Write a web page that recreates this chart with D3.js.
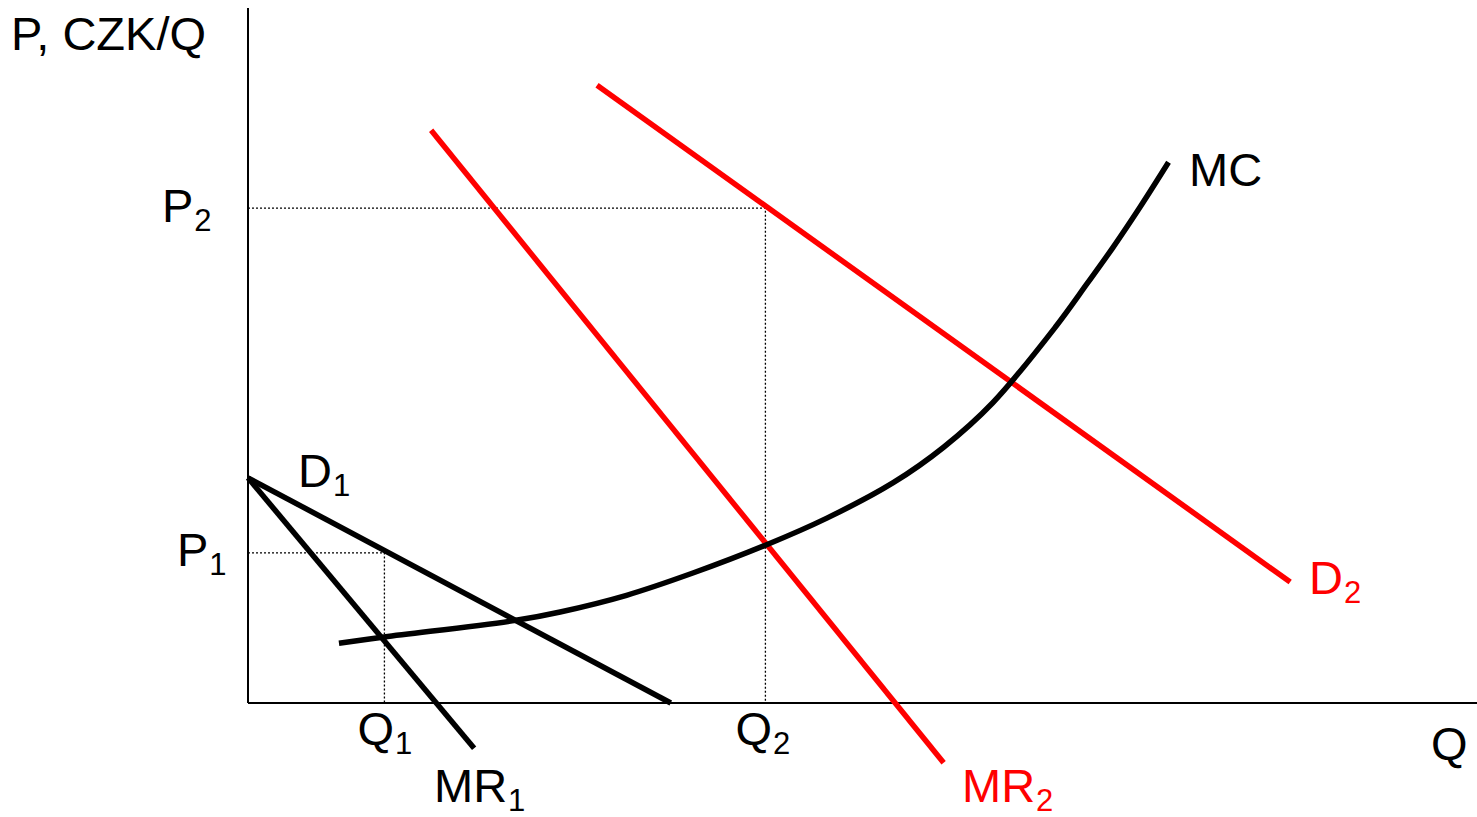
<!DOCTYPE html>
<html>
<head>
<meta charset="utf-8">
<script src="https://cdn.jsdelivr.net/npm/d3@7"></script>
<style>
  html, body { margin: 0; padding: 0; background: #fff; }
  svg { display: block; }
  text { font-family: "Liberation Sans", Arial, sans-serif; }
</style>
</head>
<body>
<svg id="chart" width="1477" height="817"></svg>
<script>
// ---- Data (Q units, P units) ----
const mcCurve = [
  [7.4, 8.6], [11.1, 9.5], [21.8, 11.9], [25.4, 13.1], [30.8, 15.5],
  [36.2, 18.7], [42.1, 22.7], [47.1, 26.6], [52.5, 31.7], [56.6, 36.8],
  [60.6, 43.2], [65.7, 54.1], [68.3, 60.4], [70.4, 65.6], [72.6, 71.4],
  [74.9, 77.8]
];
const d1Line  = [[0, 32.4], [34.4, 0]];
const mr1Line = [[0, 32.4], [18.4, -6.5]];
const d2Line  = [[28.4, 88.9], [84.8, 17.4]];
const mr2Line = [[14.9, 82.4], [56.6, -8.6]];
const equilibria = [
  { q: 11.1, p: 21.6, qLabel: "Q", pLabel: "P", sub: "1" },
  { q: 42.1, p: 71.2, qLabel: "Q", pLabel: "P", sub: "2" }
];
const axisLabels = { y: "P, CZK/Q", x: "Q" };

// ---- Scales ----
const x = d3.scaleLinear().domain([0, 100]).range([248, 1477]);
const y = d3.scaleLinear().domain([0, 100]).range([703, 8]);

const svg = d3.select("#chart");
const line = d3.line().x(d => x(d[0])).y(d => y(d[1]));

// ---- Axes ----
svg.append("line")
  .attr("x1", x(0)).attr("x2", x(0)).attr("y1", y(0)).attr("y2", y(100))
  .attr("stroke", "#000").attr("stroke-width", 2);
svg.append("line")
  .attr("x1", x(0)).attr("x2", x(100)).attr("y1", y(0)).attr("y2", y(0))
  .attr("stroke", "#000").attr("stroke-width", 2);

// ---- Dotted guide lines ----
equilibria.forEach(e => {
  svg.append("path")
    .attr("d", line([[0, e.p], [e.q, e.p], [e.q, 0]]))
    .attr("fill", "none").attr("stroke", "#000")
    .attr("stroke-width", 1.3).attr("stroke-dasharray", "2,2");
});

// ---- Curves ----
const SW = 5.5;
svg.append("path").attr("d", line(d1Line))
  .attr("fill", "none").attr("stroke", "#000").attr("stroke-width", SW);
svg.append("path").attr("d", line(mr1Line))
  .attr("fill", "none").attr("stroke", "#000").attr("stroke-width", SW);
svg.append("path").attr("d", line(d2Line))
  .attr("fill", "none").attr("stroke", "#ff0000").attr("stroke-width", SW);
svg.append("path").attr("d", line(mr2Line))
  .attr("fill", "none").attr("stroke", "#ff0000").attr("stroke-width", SW);
svg.append("path").attr("d", d3.line().curve(d3.curveCatmullRom.alpha(0.5))
    .x(d => x(d[0])).y(d => y(d[1]))(mcCurve))
  .attr("fill", "none").attr("stroke", "#000").attr("stroke-width", SW);

// ---- Labels ----
const FS = 47, SFS = 31;
function label(px, py, main, sub, color) {
  const t = svg.append("text").attr("x", px).attr("y", py)
    .attr("font-size", FS).attr("fill", color || "#000");
  t.append("tspan").text(main);
  if (sub) {
    t.append("tspan").attr("font-size", SFS).attr("dx", 1).attr("dy", 9).text(sub);
  }
  return t;
}
label(11, 50, axisLabels.y);
label(x(100) - 46, 760, axisLabels.x);
label(x(0) - 86, y(71.2) + 14, "P", "2");
label(x(0) - 71, y(21.6) + 13, "P", "1");
label(x(11.1) - 27, 745, "Q", "1");
label(x(42.1) - 30, 745, "Q", "2");
label(298, 487, "D", "1");
label(434, 802, "MR", "1");
label(962, 802, "MR", "2", "#ff0000");
label(1309, 594, "D", "2", "#ff0000");
label(1189, 186, "MC");
</script>
</body>
</html>
